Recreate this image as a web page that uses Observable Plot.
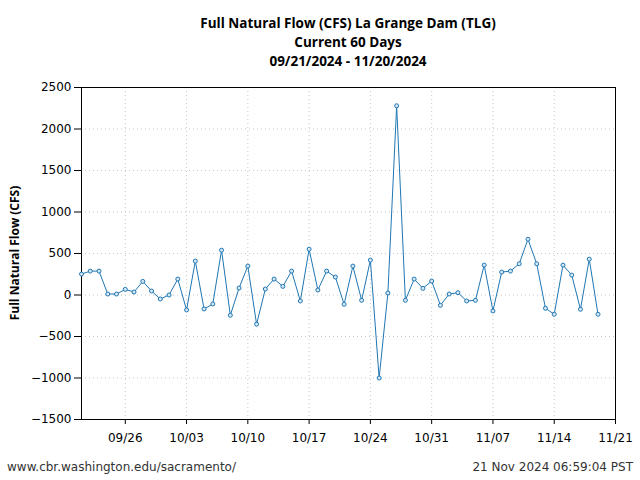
<!DOCTYPE html>
<html><head><meta charset="utf-8">
<script src="https://cdn.jsdelivr.net/npm/d3@7"></script>
<script src="https://cdn.jsdelivr.net/npm/@observablehq/plot@0.6"></script>
<style>body{margin:0;background:#fff}#c{position:relative;width:640px;height:480px}</style>
</head><body><div id="c"></div>
<script>
const startDate = "2024-09-21";
const flowValues = [252,288,288,12,12,68,36,164,48,-48,0,192,-180,408,-168,-108,540,-244,84,348,
 -352,72,192,104,288,-72,552,60,288,216,-112,348,-64,420,-1000,24,2280,-64,192,80,
 168,-124,12,28,-72,-64,360,-192,276,288,376,672,376,-160,-232,360,240,-172,432,-232];
const yTicks = [-1500,-1000,-500,0,500,1000,1500,2000,2500];
const xTickLabels = ["09/26","10/03","10/10","10/17","10/24","10/31","11/07","11/14","11/21"];
const titleLines = ["Full Natural Flow (CFS) La Grange Dam (TLG)","Current 60 Days","09/21/2024 - 11/20/2024"];
const yLabel = "Full Natural Flow (CFS)";
const footLeft = "www.cbr.washington.edu/sacramento/";
const footRight = "21 Nov 2024 06:59:04 PST";

const t0 = new Date(startDate + "T00:00:00Z");
const day = 86400000;
const data = flowValues.map((v,i)=>({date:new Date(t0.getTime()+i*day), flow:v}));
const xTicks = xTickLabels.map(s=>{const [m,d]=s.split("/").map(Number);return new Date(Date.UTC(2024,m-1,d));});
const blue = "#1f77b4";

const chart = Plot.plot({
  width:640, height:480,
  marginLeft:81, marginRight:25, marginTop:87, marginBottom:61,
  style:{fontFamily:"DejaVu Sans", fontSize:"12px", color:"#000", background:"#fff"},
  x:{type:"utc", domain:[t0, new Date(Date.UTC(2024,10,21))]},
  y:{domain:[-1500,2500]},
  marks:[
    Plot.ruleX(xTicks,{stroke:"#c8c8c8", strokeDasharray:"1,3", strokeWidth:1}),
    Plot.ruleY(yTicks,{stroke:"#c8c8c8", strokeDasharray:"1,3", strokeWidth:1}),
    Plot.frame({stroke:"#000", strokeWidth:1}),
    Plot.axisY({ticks:yTicks, tickSize:7, tickPadding:3, tickFormat:d3.format("d"), label:null, fontSize:12}),
    Plot.axisX({ticks:xTicks, tickSize:5, tickPadding:9, tickFormat:d3.utcFormat("%m/%d"), label:null, fontSize:12}),
    Plot.line(data,{x:"date", y:"flow", stroke:blue, strokeWidth:1}),
    Plot.dot(data,{x:"date", y:"flow", r:2, stroke:blue, fill:"#d8e8f4", strokeWidth:1})
  ]
});
document.getElementById("c").appendChild(chart);

const svg = d3.select(chart);
const tg = svg.append("g").attr("font-family","Open Sans").attr("font-weight","bold").attr("font-size","13.5px").attr("text-anchor","middle");
titleLines.forEach((s,i)=>tg.append("text").attr("x",348).attr("y",28+i*19).text(s));
svg.append("text").attr("transform","translate(19,253) rotate(-90)").attr("text-anchor","middle")
  .attr("font-family","Open Sans").attr("font-weight","bold").attr("font-size","12px").text(yLabel);
svg.append("text").attr("x",7).attr("y",471).attr("text-anchor","start").attr("font-family","DejaVu Sans").attr("font-size","12px").attr("fill","#333").text(footLeft);
svg.append("text").attr("x",633).attr("y",471).attr("text-anchor","end").attr("font-family","DejaVu Sans").attr("font-size","12px").attr("fill","#333").text(footRight);
</script></body></html>
